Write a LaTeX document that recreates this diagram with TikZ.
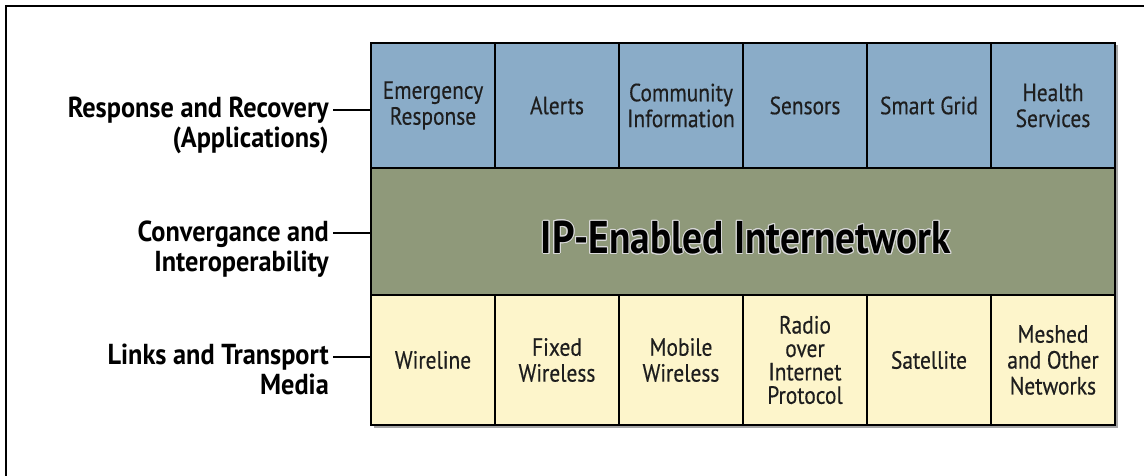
\documentclass[tikz,border=0pt]{standalone}
\usepackage{fontspec}
\setmainfont{PT Sans}
\newfontfamily\cellf[FakeStretch=0.86, FakeBold=0.4]{PT Sans}
\newfontfamily\lblf[FakeStretch=0.91]{PT Sans Bold}
\newfontfamily\bigf[FakeStretch=0.86]{PT Sans Bold}
\usepackage{contour}
\contourlength{1bp}
\definecolor{appblue}{HTML}{8AACC8}
\definecolor{netgreen}{HTML}{8F997A}
\definecolor{linkyellow}{HTML}{FDF5CB}
\definecolor{txt}{HTML}{1E1E1E}
\tikzset{
  cell/.style={draw=black, line width=1.8bp, minimum width=124bp, inner sep=0pt,
    align=center, text=txt, font=\cellf\fontsize{25}{26}\selectfont},
  app/.style={cell, fill=appblue, minimum height=125bp},
  lnk/.style={cell, fill=linkyellow, minimum height=130bp},
  lbl/.style={anchor=east, inner sep=0pt, align=right, text=black,
    font=\lblf\fontsize{29}{30}\selectfont},
  tick/.style={line width=1.5bp, draw=black}
}
\begin{document}
\begin{tikzpicture}[x=1bp, y=-1bp]
\useasboundingbox (0,0) rectangle (1144,476);
% outer frame (top and left)
\draw[line width=2.5bp] (6,476) -- (6,6) -- (1144,6);
% shadow
\fill[black!35] (373.5,45.5) rectangle (1117.5,428);
% application row
\node[app] (a1) at (433,105.5) {Emergency\\Response};
\node[app] (a2) at (557,105.5) {Alerts};
\node[app] (a3) at (681,105.5) {Community\\Information};
\node[app] (a4) at (805,105.5) {Sensors};
\node[app] (a5) at (929,105.5) {Smart Grid};
\node[app] (a6) at (1053,105.5) {Health\\Services};
% network band
\node[cell, fill=netgreen, minimum width=744bp, minimum height=127bp] (net) at (743,231.5) {};
\node[inner sep=0pt, text=black, font=\bigf\fontsize{46}{48}\selectfont] (ip) at (746,238) {\contour{white!85!black}{IP-Enabled Internetwork}};
% link row
\node[lnk] (l1) at (433,360) {Wireline};
\node[lnk] (l2) at (557,360) {Fixed\\Wireless};
\node[lnk] (l3) at (681,360) {Mobile\\Wireless};
\node[lnk, font=\cellf\fontsize{25}{23.5}\selectfont] (l4) at (805,360) {Radio\\over\\Internet\\Protocol};
\node[lnk] (l5) at (929,360) {Satellite};
\node[lnk] (l6) at (1053,360) {Meshed\\and Other\\Networks};
% layer labels
\node[lbl] (r1) at (329,125) {Response and Recovery\\(Applications)};
\node[lbl] (r2) at (329,249.5) {Convergance and\\Interoperability};
\node[lbl] (r3) at (329,369) {Links and Transport\\Media};
\coordinate (t1) at (333,110);
\coordinate (t2) at (333,233);
\coordinate (t3) at (333,357);
\draw[tick] (t1) -- (a1.west |- t1);
\draw[tick] (t2) -- (net.west |- t2);
\draw[tick] (t3) -- (l1.west |- t3);
\end{tikzpicture}
\end{document}
